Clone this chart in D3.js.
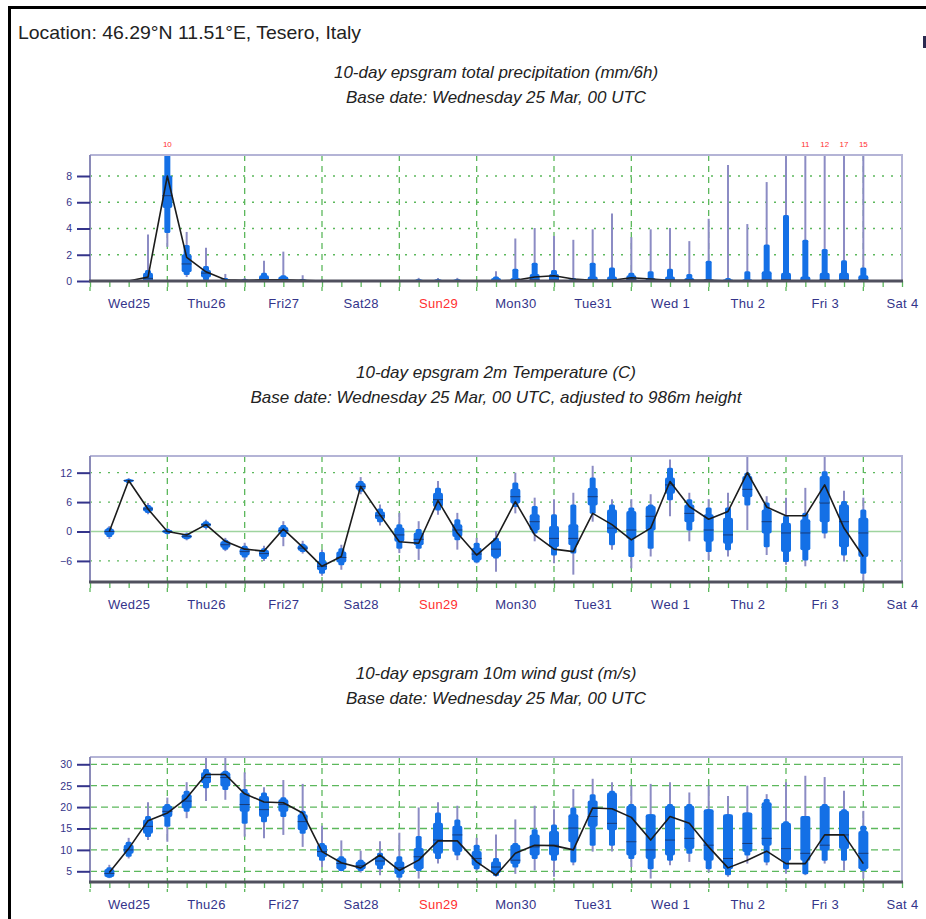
<!DOCTYPE html>
<html><head><meta charset="utf-8">
<script src="https://cdn.jsdelivr.net/npm/d3@7"></script>
<style>body{margin:0;background:#fff}svg{display:block;font-family:"Liberation Sans",Arial,sans-serif}</style>
</head><body>
<script>
// ---------- DATA ----------
const locationText = "Location: 46.29°N 11.51°E, Tesero, Italy";
const leadHours = [6,12,18,24,30,36,42,48,54,60,66,72,78,84,90,96,102,108,114,120,126,132,138,144,150,156,162,168,174,180,186,192,198,204,210,216,222,228,234,240];
const dayLabels = ["Wed25","Thu26","Fri27","Sat28","Sun29","Mon30","Tue31","Wed 1","Thu 2","Fri 3","Sat 4"];
const dayLabelHours = [12,36,60,84,108,132,156,180,204,228,252];
const dayLineHours = [0,24,48,72,96,120,144,168,192,216,240];
const tickHours = [0,6,12,18,24,30,36,42,48,54,60,66,72,78,84,90,96,102,108,114,120,126,132,138,144,150,156,162,168,174,180,186,192,198,204,210,216,222,228,234,240,246,252];

// Precipitation (mm/6h)
const precipTitles = ["10-day epsgram total precipitation (mm/6h)","Base date: Wednesday 25 Mar, 00 UTC"];
const precipTicks = [0,2,4,6,8];
const precipMin = [0,0,0,2.6,0.3,0,0,0,0,0,0,0,0,0,0,0,0,0,0,0,0,0,0,0,0,0,0,0,0,0,0,0,0,0,0,0,0,0,0,0];
const precipP10 = [0,0,0,3.7,0.5,0.1,0,0,0,0,0,0,0,0,0,0,0,0,0,0,0,0,0,0,0,0,0,0,0,0,0,0,0,0,0,0,0,0,0,0];
const precipP25 = [0,0,0,5.6,0.7,0.3,0,0,0,0,0,0,0,0,0,0,0,0,0,0,0,0,0,0,0,0,0,0,0,0,0,0,0,0,0,0,0,0,0,0];
const precipMed = [0,0,0.2,6.5,1.3,0.6,0.05,0,0.1,0.1,0,0,0,0,0,0,0,0,0,0,0,0,0.1,0.1,0,0.05,0.05,0.1,0.05,0.05,0.05,0.05,0,0,0.1,0.1,0.05,0.1,0.1,0.1];
const precipP75 = [0,0,0.6,8.0,2.0,0.8,0.1,0.05,0.4,0.3,0.05,0,0,0,0,0,0.05,0.05,0.05,0,0.2,0.2,0.5,0.5,0.1,0.3,0.3,0.4,0.2,0.3,0.2,0.1,0.1,0.1,0.7,0.6,0.3,0.6,0.6,0.4];
const precipP90 = [0,0,0.8,9.8,2.7,1.1,0.2,0.1,0.6,0.4,0.1,0,0,0,0,0,0.1,0.1,0.1,0,0.3,0.9,1.35,0.8,0.2,1.35,1.0,0.6,0.7,0.9,0.5,1.5,0.2,0.7,2.75,5.0,3.1,2.4,1.55,1.0];
const precipMax = [0,0,3.5,10,3.7,2.5,0.5,0.2,1.5,2.2,0.4,0.1,0,0,0,0,0.2,0.2,0.2,0,0.7,3.2,4.0,3.4,3.1,3.9,5.1,3.3,3.9,4.0,3.0,4.7,8.8,4.3,7.5,9.5,11,12,17,15];
const precipHres = [0,0,0.3,8.0,1.8,0.7,0.1,0.05,0.1,0.1,0.05,0,0,0,0,0,0,0,0,0,0,0.05,0.3,0.4,0.15,0.05,0.05,0.25,0.15,0.05,0.05,0.05,0,0,0,0,0,0,0,0];

// 2m temperature (C)
const tempTitles = ["10-day epsgram 2m Temperature (C)","Base date: Wednesday 25 Mar, 00 UTC, adjusted to 986m height"];
const tempTicks = [-6,0,6,12];
const tempMin = [-1.5,9.8,3.5,-0.6,-1.8,0.4,-4.0,-5.8,-6.0,-3.0,-4.5,-9.0,-7.8,7.6,1.2,-4.4,-5.8,3.4,-3.7,-6.5,-8.2,3.7,-2.0,-6.5,-8.8,2.0,-3.7,-7.5,-5.1,3.1,-2.0,-5.8,-5.1,0.3,-4.8,-6.8,-7.1,-1.4,-6.1,-10.2];
const tempP10 = [-1.0,10.0,3.9,-0.4,-1.5,0.8,-3.6,-5.2,-5.5,-1.0,-4.1,-8.5,-6.8,8.2,2.0,-3.4,-3.4,4.4,-1.7,-6.2,-5.4,5.1,-0.3,-4.8,-4.4,3.7,-2.7,-5.1,-3.4,6.5,0.3,-4.1,-3.7,5.4,-3.1,-6.1,-5.8,-0.3,-4.8,-8.5];
const tempP25 = [-0.6,10.2,4.2,-0.2,-1.3,1.1,-3.2,-4.8,-5.1,-0.4,-3.8,-7.8,-6.2,8.6,2.6,-2.0,-2.7,5.1,-1.0,-5.8,-5.1,5.8,0.3,-3.1,-2.7,5.4,-0.3,-1.4,0.3,7.8,2.0,-2.0,-2.4,7.1,-0.3,-4.1,-3.7,2.0,-3.1,-5.1];
const tempMed = [0,10.4,4.6,0,-1.0,1.4,-2.7,-4.1,-4.5,0.2,-3.4,-7.1,-5.3,9.2,3.2,-0.7,-1.6,6.5,0.3,-4.6,-3.6,7.1,2.0,-1.4,-1.4,7.1,0.7,0.3,3.1,9.5,3.7,0.3,-0.7,8.6,2.0,-0.3,-0.3,5.8,2.0,-0.3];
const tempP75 = [0.4,10.5,5.0,0.2,-0.7,1.7,-2.1,-3.5,-3.9,0.8,-2.9,-6.1,-4.2,9.8,4.0,0.7,-0.3,7.8,1.4,-3.4,-2.0,8.6,3.4,1.0,1.4,8.8,4.4,4.1,5.1,10.9,5.4,3.4,2.7,11.2,4.4,1.7,2.4,11.2,5.4,2.7];
const tempP90 = [0.7,10.6,5.3,0.4,-0.5,2.0,-1.8,-3.0,-3.5,1.2,-2.6,-4.3,-3.5,10.2,4.6,1.4,0.4,8.8,2.4,-2.4,-1.4,9.9,5.1,3.4,5.4,10.9,5.4,4.8,5.4,12.9,6.5,4.8,4.8,11.9,5.8,3.1,3.7,12.2,6.1,4.4];
const tempMax = [1.0,10.8,5.7,0.6,-0.3,2.3,-1.4,-2.4,-3.0,2.0,-2.0,-3.8,-2.8,11.0,5.4,3.7,2.0,10.2,3.7,-1.4,0,11.9,6.8,6.5,7.8,13.3,6.5,6.5,7.5,14.6,7.8,6.5,7.8,15.6,7.1,6.8,8.8,15.3,8.2,6.8];
const tempHres = [0,10.4,4.6,0,-0.7,1.4,-2.0,-3.6,-4.0,0.5,-3.2,-7.1,-5.1,9.2,3.4,-2.1,-2.4,6.3,-0.3,-4.8,-1.4,6.1,-0.7,-3.6,-4.1,3.7,1.4,-1.7,0.7,10.2,5.1,2.5,4.1,12.0,5.0,3.2,3.2,9.5,0.7,-5.1];

// 10m wind gust (m/s)
const gustTitles = ["10-day epsgram 10m wind gust (m/s)","Base date: Wednesday 25 Mar, 00 UTC"];
const gustTicks = [5,10,15,20,25,30];
const gustMin = [3.4,8.0,12.3,11.9,17.4,21.4,21.7,13.1,12.7,13.5,10.7,6.0,5.0,4.7,4.1,2.9,3.3,6.8,7.6,5.2,3.7,4.4,5.2,3.7,6.4,9.6,9.6,6.0,3.3,6.4,7.2,4.8,3.7,6.8,6.4,4.4,4.1,6.8,5.2,3.3];
const gustP10 = [3.6,8.5,13.1,15.5,19.0,24.5,24.1,16.2,16.6,17.8,13.9,7.6,5.2,5.2,5.6,3.6,5.2,8.0,8.8,5.6,4.0,6.0,8.0,7.6,7.2,11.1,11.1,8.0,5.6,7.6,9.2,5.6,4.2,8.8,7.2,5.6,4.4,7.6,7.6,5.2];
const gustP25 = [3.8,9.2,13.9,17.8,19.8,25.7,24.9,19.0,17.8,19.0,14.7,8.4,5.6,5.6,6.4,4.4,5.6,9.2,9.6,6.4,4.8,6.8,8.8,8.8,11.9,15.5,14.7,8.8,8.0,8.8,10.3,7.6,5.6,9.6,11.1,7.6,7.6,10.0,10.3,5.6];
const gustMed = [4.5,10.0,15.5,19.0,21.4,26.9,26.9,20.6,19.4,20.6,16.6,9.6,6.8,6.3,7.4,5.8,8.4,12.3,13.5,8.0,6.0,7.6,10.7,11.1,15.1,17.8,16.2,11.9,10.0,12.3,12.7,11.1,8.0,11.5,12.7,10.3,9.2,11.1,13.5,9.2];
const gustP75 = [5.4,11.1,17.0,20.2,22.9,28.0,28.0,23.3,22.5,21.7,18.2,11.1,8.0,7.2,8.4,7.2,10.3,16.2,15.5,9.6,7.2,11.1,13.5,14.3,18.2,21.4,23.3,20.2,18.2,20.2,20.2,19.4,18.2,18.6,21.0,16.2,17.8,20.2,19.0,14.3];
const gustP90 = [5.8,11.8,17.8,20.6,23.7,28.8,28.4,24.1,23.3,22.2,19.0,11.5,8.4,7.6,9.2,8.4,13.1,18.6,17.0,11.1,8.0,11.5,14.7,15.8,19.8,22.9,23.7,20.6,18.2,20.6,20.6,19.4,18.2,18.6,21.8,16.6,17.8,20.6,19.4,15.5];
const gustMax = [6.4,12.7,21.0,22.1,25.7,32,32,28.0,24.5,26.2,25.3,15.5,12.1,9.7,11.9,13.9,19.8,21.0,20.2,12.7,13.5,17.0,20.2,19.4,24.1,26.5,25.7,24.9,25.3,25.7,23.3,24.9,22.5,24.9,22.9,25.7,27.2,26.9,23.7,19.0];
const gustHres = [4.7,10.3,16.8,18.6,22.1,27.6,27.6,23.1,21.2,21.0,18.6,9.6,7.0,5.8,8.8,5.2,7.6,12.1,12.1,7.2,4.1,9.2,11.1,11.0,10.0,19.8,19.6,17.6,12.3,17.8,16.2,10.7,5.8,7.6,9.7,6.8,6.8,13.5,13.5,6.8];

// ---------- DRAWING ----------
const W = 926, H = 919;
const svg = d3.select("body").append("svg").attr("width", W).attr("height", H);
const PL = 90, PR = 902;
const x = d3.scaleLinear().domain([0, 252]).range([PL, PR]);
const NAVY = "#34348a", GREEN = "#5cb85c", BOX = "#1470e6", WHISK = "#8c8cc4";

// outer frame
svg.append("line").attr("x1", 8).attr("x2", W).attr("y1", 7.5).attr("y2", 7.5).attr("stroke", "#000").attr("stroke-width", 3);
svg.append("line").attr("x1", 9.5).attr("x2", 9.5).attr("y1", 6).attr("y2", H).attr("stroke", "#000").attr("stroke-width", 3);
svg.append("rect").attr("x", 923).attr("y", 36).attr("width", 3).attr("height", 12).attr("fill", "#2a2a50");
svg.append("text").attr("x", 18).attr("y", 38.5).attr("font-size", 19).attr("fill", "#222")
  .attr("textLength", 343).attr("lengthAdjust", "spacingAndGlyphs").text(locationText);

function panel(o, idx) {
  const y = d3.scaleLinear().domain(o.domain).range([o.bottom, o.top]);
  const g = svg.append("g");
  o.titles.forEach((t, i) => g.append("text").attr("x", 496).attr("y", o.titleY + i * 24.5)
    .attr("text-anchor", "middle").attr("font-style", "italic").attr("font-size", 17).attr("fill", "#222").text(t));

  const clipId = "clip" + idx;
  svg.append("clipPath").attr("id", clipId).append("rect")
    .attr("x", PL).attr("y", o.top).attr("width", PR - PL).attr("height", o.bottom - o.top);

  // horizontal grid
  g.selectAll(".hg").data(o.ticks.filter(v => v !== o.domain[0] && v !== o.zeroLine)).enter().append("line")
    .attr("x1", PL).attr("x2", PR).attr("y1", d => y(d)).attr("y2", d => y(d))
    .attr("stroke", GREEN).attr("stroke-width", 1.3).attr("stroke-dasharray", o.gridDash);
  if (o.zeroLine !== undefined) {
    g.append("line").attr("x1", PL).attr("x2", PR).attr("y1", y(o.zeroLine)).attr("y2", y(o.zeroLine))
      .attr("stroke", "#9ed49e").attr("stroke-width", 1.5);
  }
  // day lines
  g.selectAll(".dl").data(dayLineHours).enter().append("line")
    .attr("x1", d => x(d)).attr("x2", d => x(d)).attr("y1", o.top).attr("y2", o.bottom + 10)
    .attr("stroke", GREEN).attr("stroke-width", 1.3).attr("stroke-dasharray", "6,5");

  // 6-hour ticks under axis
  const tickAxis = d3.axisBottom(x).tickValues(tickHours).tickSize(6).tickFormat("");
  const ta = g.append("g").attr("transform", `translate(0,${o.bottom})`).call(tickAxis);
  ta.select(".domain").remove();
  ta.selectAll("line").attr("stroke", GREEN).attr("stroke-width", 1.3);

  // ensemble boxes
  const data = leadHours.map((h, i) => ({h, mn: o.mn[i], p10: o.p10[i], p25: o.p25[i], med: o.med[i], p75: o.p75[i], p90: o.p90[i], mx: o.mx[i]}));
  const bg = g.append("g").attr("clip-path", `url(#${clipId})`);
  bg.selectAll(".wh").data(data).enter().append("line")
    .attr("x1", d => x(d.h)).attr("x2", d => x(d.h)).attr("y1", d => y(d.mn)).attr("y2", d => y(d.mx) - 0.5)
    .attr("stroke", WHISK).attr("stroke-width", 2);
  bg.selectAll(".nb").data(data).enter().append("rect")
    .attr("x", d => x(d.h) - 3).attr("width", 6)
    .attr("y", d => y(d.p90) - 0.5).attr("height", d => Math.max(1.5, y(d.p10) - y(d.p90) + 1))
    .attr("rx", 1.5).attr("fill", BOX);
  bg.selectAll(".wb").data(data).enter().append("rect")
    .attr("x", d => x(d.h) - 5).attr("width", 10)
    .attr("y", d => y(d.p75) - 0.5).attr("height", d => Math.max(2, y(d.p25) - y(d.p75) + 1))
    .attr("rx", 2).attr("fill", BOX);
  bg.selectAll(".md").data(data).enter().append("line")
    .attr("x1", d => x(d.h) - 5).attr("x2", d => x(d.h) + 5).attr("y1", d => y(d.med)).attr("y2", d => y(d.med))
    .attr("stroke", "#183c7a").attr("stroke-width", 1);

  // HRES line
  const line = d3.line().x((d, i) => x(leadHours[i])).y(d => y(d));
  bg.append("path").datum(o.hres).attr("d", line).attr("fill", "none")
    .attr("stroke", "#1c1c1c").attr("stroke-width", 1.6).attr("stroke-linejoin", "round");

  // out-of-range labels
  if (o.overflowLabels) {
    g.selectAll(".ov").data(data.filter(d => d.mx > o.domain[1])).enter().append("text")
      .attr("x", d => x(d.h)).attr("y", o.top - 8).attr("text-anchor", "middle")
      .attr("font-size", 8).attr("fill", "#ff3030").text(d => Math.round(d.mx));
  }

  // frame top/right
  g.append("line").attr("x1", PL).attr("x2", PR + 1).attr("y1", o.top).attr("y2", o.top).attr("stroke", "#b4b4d6").attr("stroke-width", 2);
  g.append("line").attr("x1", PR).attr("x2", PR).attr("y1", o.top).attr("y2", o.bottom).attr("stroke", "#b4b4d6").attr("stroke-width", 2);

  // y axis
  const ya = g.append("g").attr("transform", `translate(${PL},0)`)
    .call(d3.axisLeft(y).tickValues(o.ticks).tickSize(13).tickPadding(5));
  ya.select(".domain").attr("stroke", "#8a8ab8").attr("stroke-width", 2).attr("d", `M0,${o.top}V${o.bottom}`);
  ya.selectAll(".tick line").attr("stroke", NAVY).attr("stroke-width", 2);
  ya.selectAll(".tick text").attr("fill", NAVY).attr("font-size", 10.5).attr("font-family", "Liberation Sans, Arial, sans-serif");

  // bottom axis line
  g.append("line").attr("x1", PL - 1).attr("x2", PR + 1).attr("y1", o.bottom).attr("y2", o.bottom).attr("stroke", "#50505e").attr("stroke-width", 3);

  // day labels
  const la = g.append("g").attr("transform", `translate(0,${o.bottom})`)
    .call(d3.axisBottom(x).tickValues(dayLabelHours).tickSize(0).tickPadding(18).tickFormat((d, i) => dayLabels[i]));
  la.select(".domain").remove();
  la.selectAll("text").attr("font-size", 13).attr("letter-spacing", 0.3).attr("font-family", "Liberation Sans, Arial, sans-serif")
    .attr("fill", (d, i) => dayLabels[i].startsWith("Sun") ? "#ff3030" : NAVY);
}

panel({titles: precipTitles, titleY: 78, top: 155, bottom: 281, domain: [0, 9.6], ticks: precipTicks,
  gridDash: "2,7", mn: precipMin, p10: precipP10, p25: precipP25, med: precipMed, p75: precipP75, p90: precipP90, mx: precipMax,
  hres: precipHres, overflowLabels: true}, 0);
panel({titles: tempTitles, titleY: 378, top: 456, bottom: 582, domain: [-10.3, 15.4], ticks: tempTicks, zeroLine: 0,
  gridDash: "2,7", mn: tempMin, p10: tempP10, p25: tempP25, med: tempMed, p75: tempP75, p90: tempP90, mx: tempMax,
  hres: tempHres}, 1);
panel({titles: gustTitles, titleY: 679, top: 757, bottom: 882, domain: [2.5, 31.7], ticks: gustTicks,
  gridDash: "7,4", mn: gustMin, p10: gustP10, p25: gustP25, med: gustMed, p75: gustP75, p90: gustP90, mx: gustMax,
  hres: gustHres}, 2);
</script>
</body></html>
